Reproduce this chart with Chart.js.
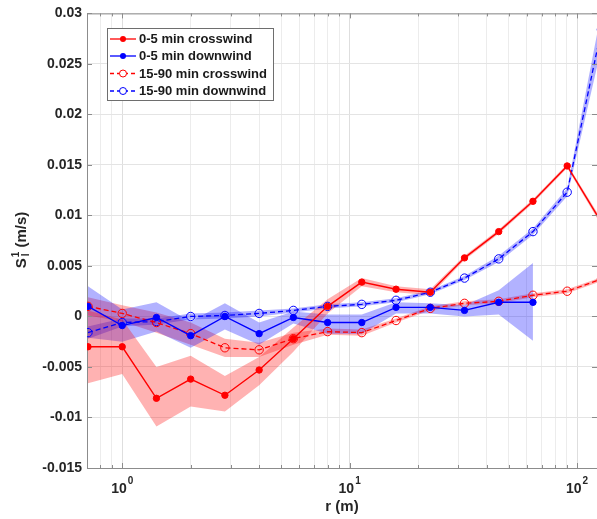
<!DOCTYPE html>
<html>
<head>
<meta charset="utf-8">
<script src="https://cdn.jsdelivr.net/npm/chart.js@4.4.1/dist/chart.umd.min.js"></script>
<style>
  html, body { margin: 0; padding: 0; background: #fff; }
  #wrap { width: 597px; height: 519px; }
</style>
</head>
<body>
<div id="wrap"><canvas id="sfChart" width="597" height="519"></canvas></div>
<script>
// separation distance r (m)
const radii = [0.707, 1, 1.414, 2, 2.828, 4, 5.657, 8, 11.31, 16, 22.63, 32, 45.25, 64, 90.51, 128];

// 0-5 min crosswind
const crossShort   = [-0.0030, -0.0030, -0.0081, -0.0062, -0.0078, -0.0053, -0.0022, 0.0010, 0.0034, 0.0027, 0.0024, 0.0058, 0.0084, 0.0114, 0.0149, 0.0093];
const crossShortLo = [-0.0066, -0.0057, -0.0109, -0.0089, -0.0094, -0.0068, -0.0035, 0.0003, 0.0030, 0.0024, 0.0021, 0.0056, 0.0082, 0.0112, 0.0147, 0.0090];
const crossShortHi = [0.0006, -0.0003, -0.0050, -0.0039, -0.0059, -0.0040, -0.0011, 0.0017, 0.0038, 0.0030, 0.0027, 0.0060, 0.0086, 0.0116, 0.0151, 0.0096];

// 0-5 min downwind
const downShort   = [0.0010, -0.0009, -0.0001, -0.0019, 0.0000, -0.0017, -0.0001, -0.0006, -0.0006, 0.0009, 0.0009, 0.0006, 0.0014, 0.0014];
const downShortLo = [-0.0021, -0.0025, -0.0015, -0.0031, -0.0013, -0.0028, -0.0007, -0.0017, -0.0017, 0.0003, 0.0003, 0.0000, 0.0002, -0.0024];
const downShortHi = [0.0030, 0.0007, 0.0014, -0.0005, 0.0013, -0.0006, 0.0005, 0.0002, 0.0002, 0.0014, 0.0013, 0.0011, 0.0026, 0.0053];

// 15-90 min crosswind
const crossLong   = [0.0010, 0.0003, -0.0006, -0.0017, -0.0031, -0.0033, -0.0022, -0.0015, -0.0016, -0.0004, 0.0008, 0.0013, 0.0015, 0.0021, 0.0025, 0.0037];
const crossLongLo = [0.0001, -0.0005, -0.0016, -0.0028, -0.0040, -0.0040, -0.0028, -0.0018, -0.0019, -0.0006, 0.0006, 0.0011, 0.0013, 0.0019, 0.0023, 0.0035];
const crossLongHi = [0.0019, 0.0011, 0.0004, -0.0006, -0.0022, -0.0026, -0.0016, -0.0012, -0.0013, -0.0002, 0.0010, 0.0015, 0.0017, 0.0023, 0.0027, 0.0039];

// 15-90 min downwind
const downLong   = [-0.0016, -0.0006, -0.0005, 0.0000, 0.0001, 0.0003, 0.0006, 0.0010, 0.0012, 0.0016, 0.0024, 0.0038, 0.0057, 0.0084, 0.0123, 0.0284];
const downLongLo = [-0.0022, -0.0010, -0.0008, -0.0003, -0.0002, 0.0000, 0.0004, 0.0008, 0.0010, 0.0014, 0.0022, 0.0036, 0.0054, 0.0081, 0.0119, 0.0266];
const downLongHi = [-0.0010, -0.0002, -0.0002, 0.0003, 0.0004, 0.0006, 0.0008, 0.0012, 0.0014, 0.0018, 0.0026, 0.0040, 0.0060, 0.0087, 0.0127, 0.0302];

const seriesNames = ['0-5 min crosswind', '0-5 min downwind', '15-90 min crosswind', '15-90 min downwind'];
const xDecades = [1, 10, 100];
const xDecadeExp = ['0', '1', '2'];
const xMinor = [0.8, 0.9, 2, 3, 4, 5, 6, 7, 8, 9, 20, 30, 40, 50, 60, 70, 80, 90];

const RED = '#ff0000';
const BLUE = '#0000ff';
const RED_BAND = 'rgba(255,0,0,0.3)';
const BLUE_BAND = 'rgba(0,0,255,0.3)';
const AXIS = '#8c8c8c';
const FONT = '"Liberation Sans", Arial, sans-serif';

function pts(vals) {
    return vals.map((v, i) => ({ x: radii[i], y: v }));
}

function lineSet(label, vals, color, dashed) {
    return {
        label: label,
        data: pts(vals),
        borderColor: color,
        borderWidth: dashed ? 1.3 : 1.4,
        borderDash: dashed ? [5, 3] : [],
        pointRadius: dashed ? 4.2 : 3.2,
        pointBorderWidth: 1,
        pointBorderColor: color,
        pointBackgroundColor: dashed ? 'rgba(0,0,0,0)' : color,
        fill: false,
        tension: 0
    };
}

function bandSets(lo, hi, color) {
    return [
        { label: 'hi', data: pts(hi), borderWidth: 0, borderColor: 'rgba(0,0,0,0)', pointRadius: 0, backgroundColor: color, fill: '+1', tension: 0 },
        { label: 'lo', data: pts(lo), borderWidth: 0, borderColor: 'rgba(0,0,0,0)', pointRadius: 0, fill: false, tension: 0 }
    ];
}

const lines = [
    lineSet(seriesNames[0], crossShort, RED, false),
    lineSet(seriesNames[1], downShort, BLUE, false),
    lineSet(seriesNames[2], crossLong, RED, true),
    lineSet(seriesNames[3], downLong, BLUE, true)
];
const bands = [].concat(
    bandSets(crossShortLo, crossShortHi, RED_BAND),
    bandSets(downShortLo, downShortHi, BLUE_BAND),
    bandSets(crossLongLo, crossLongHi, RED_BAND),
    bandSets(downLongLo, downLongHi, BLUE_BAND)
);

// ticks inside the box, top border, log labels, axis titles, legend
const decorPlugin = {
    id: 'decor',
    afterDraw(chart) {
        const ctx = chart.ctx;
        const a = chart.chartArea;
        const xs = chart.scales.x;
        const ys = chart.scales.y;
        ctx.save();
        ctx.strokeStyle = AXIS;
        ctx.lineWidth = 1;
        ctx.beginPath();
        ctx.moveTo(a.left, a.top + 0.5);
        ctx.lineTo(a.right, a.top + 0.5);
        // x ticks (bottom + top)
        xDecades.concat(xMinor).forEach(v => {
            const px = Math.round(xs.getPixelForValue(v)) + 0.5;
            const len = xDecades.includes(v) ? 5 : 3;
            ctx.moveTo(px, a.bottom); ctx.lineTo(px, a.bottom - len);
            ctx.moveTo(px, a.top); ctx.lineTo(px, a.top + len);
        });
        // y ticks (left + right)
        for (let v = -0.015; v <= 0.0301; v += 0.005) {
            const py = Math.round(ys.getPixelForValue(v)) + 0.5;
            ctx.moveTo(a.left, py); ctx.lineTo(a.left + 5, py);
            ctx.moveTo(a.right, py); ctx.lineTo(a.right - 5, py);
        }
        ctx.stroke();

        // x tick labels 10^n
        ctx.fillStyle = '#262626';
        ctx.textBaseline = 'alphabetic';
        xDecades.forEach((v, i) => {
            const px = xs.getPixelForValue(v);
            ctx.font = 'bold 14px ' + FONT;
            const wb = ctx.measureText('10').width;
            ctx.font = 'bold 10px ' + FONT;
            const we = ctx.measureText(xDecadeExp[i]).width;
            const x0 = px - (wb + 1 + we) / 2;
            ctx.font = 'bold 14px ' + FONT;
            ctx.textAlign = 'left';
            ctx.fillText('10', x0, 493);
            ctx.font = 'bold 10px ' + FONT;
            ctx.fillText(xDecadeExp[i], x0 + wb + 1, 484);
        });

        // x title
        ctx.font = 'bold 15px ' + FONT;
        ctx.textAlign = 'center';
        ctx.fillText('r (m)', (a.left + a.right) / 2, 511);

        // y title S_l^1 (m/s)
        ctx.save();
        ctx.translate(26, 240);
        ctx.rotate(-Math.PI / 2);
        ctx.textAlign = 'left';
        ctx.font = 'bold 15px ' + FONT;
        const wS = ctx.measureText('S').width;
        const wU = ctx.measureText(' (m/s)').width;
        ctx.font = 'bold 10px ' + FONT;
        const wSm = Math.max(ctx.measureText('1').width, ctx.measureText('l').width);
        const start = -(wS + 1 + wSm + wU) / 2;
        ctx.font = 'bold 15px ' + FONT;
        ctx.fillText('S', start, 0);
        ctx.font = 'bold 10px ' + FONT;
        ctx.fillText('1', start + wS + 1, -7);
        ctx.fillText('l', start + wS + 2, 3);
        ctx.font = 'bold 15px ' + FONT;
        ctx.fillText(' (m/s)', start + wS + 1 + wSm, 0);
        ctx.restore();

        // legend
        const lx = 107, ly = 28, lw = 166, lh = 72;
        ctx.fillStyle = '#ffffff';
        ctx.fillRect(lx, ly, lw, lh);
        ctx.strokeStyle = '#6e6e6e';
        ctx.strokeRect(lx + 0.5, ly + 0.5, lw, lh);
        const rows = [39, 56, 73.5, 91];
        const styles = [[RED, false], [BLUE, false], [RED, true], [BLUE, true]];
        styles.forEach((s, i) => {
            const y = rows[i];
            ctx.strokeStyle = s[0];
            ctx.lineWidth = 1.3;
            ctx.setLineDash(s[1] ? [4, 3] : []);
            ctx.beginPath();
            ctx.moveTo(110, y); ctx.lineTo(136, y);
            ctx.stroke();
            ctx.setLineDash([]);
            ctx.beginPath();
            if (s[1]) {
                ctx.fillStyle = '#ffffff';
                ctx.arc(123, y, 3.5, 0, Math.PI * 2);
                ctx.fill();
                ctx.lineWidth = 1;
                ctx.stroke();
            } else {
                ctx.fillStyle = s[0];
                ctx.arc(123, y, 3, 0, Math.PI * 2);
                ctx.fill();
            }
            ctx.fillStyle = '#1a1a1a';
            ctx.font = 'bold 13px ' + FONT;
            ctx.textAlign = 'left';
            ctx.textBaseline = 'middle';
            ctx.fillText(seriesNames[i], 139, y + 0.5);
        });
        ctx.restore();
    }
};

new Chart(document.getElementById('sfChart').getContext('2d'), {
    type: 'line',
    data: { datasets: lines.concat(bands) },
    options: {
        responsive: false,
        animation: false,
        layout: { autoPadding: false, padding: { top: 13, right: 0, left: 0, bottom: 0 } },
        plugins: { legend: { display: false }, tooltip: { enabled: false } },
        scales: {
            x: {
                type: 'logarithmic',
                min: 0.707,
                max: 122.4,
                afterBuildTicks: scale => {
                    scale.ticks = xMinor.concat(xDecades).sort((p, q) => p - q).map(v => ({ value: v }));
                },
                ticks: { display: false },
                grid: {
                    drawTicks: false,
                    color: c => (c.tick && xDecades.includes(c.tick.value)) ? '#dedede' : '#ececec'
                },
                border: { display: true, color: AXIS },
                afterFit: s => { s.height = 51; }
            },
            y: {
                min: -0.015,
                max: 0.03,
                ticks: {
                    stepSize: 0.005,
                    padding: 5,
                    color: '#262626',
                    font: { family: FONT, size: 14, weight: 'bold' },
                    callback: v => String(+v.toFixed(3))
                },
                grid: { drawTicks: false, color: '#e4e4e4' },
                border: { display: true, color: AXIS },
                afterFit: s => { s.width = 87; }
            }
        }
    },
    plugins: [decorPlugin]
});
</script>
</body>
</html>
